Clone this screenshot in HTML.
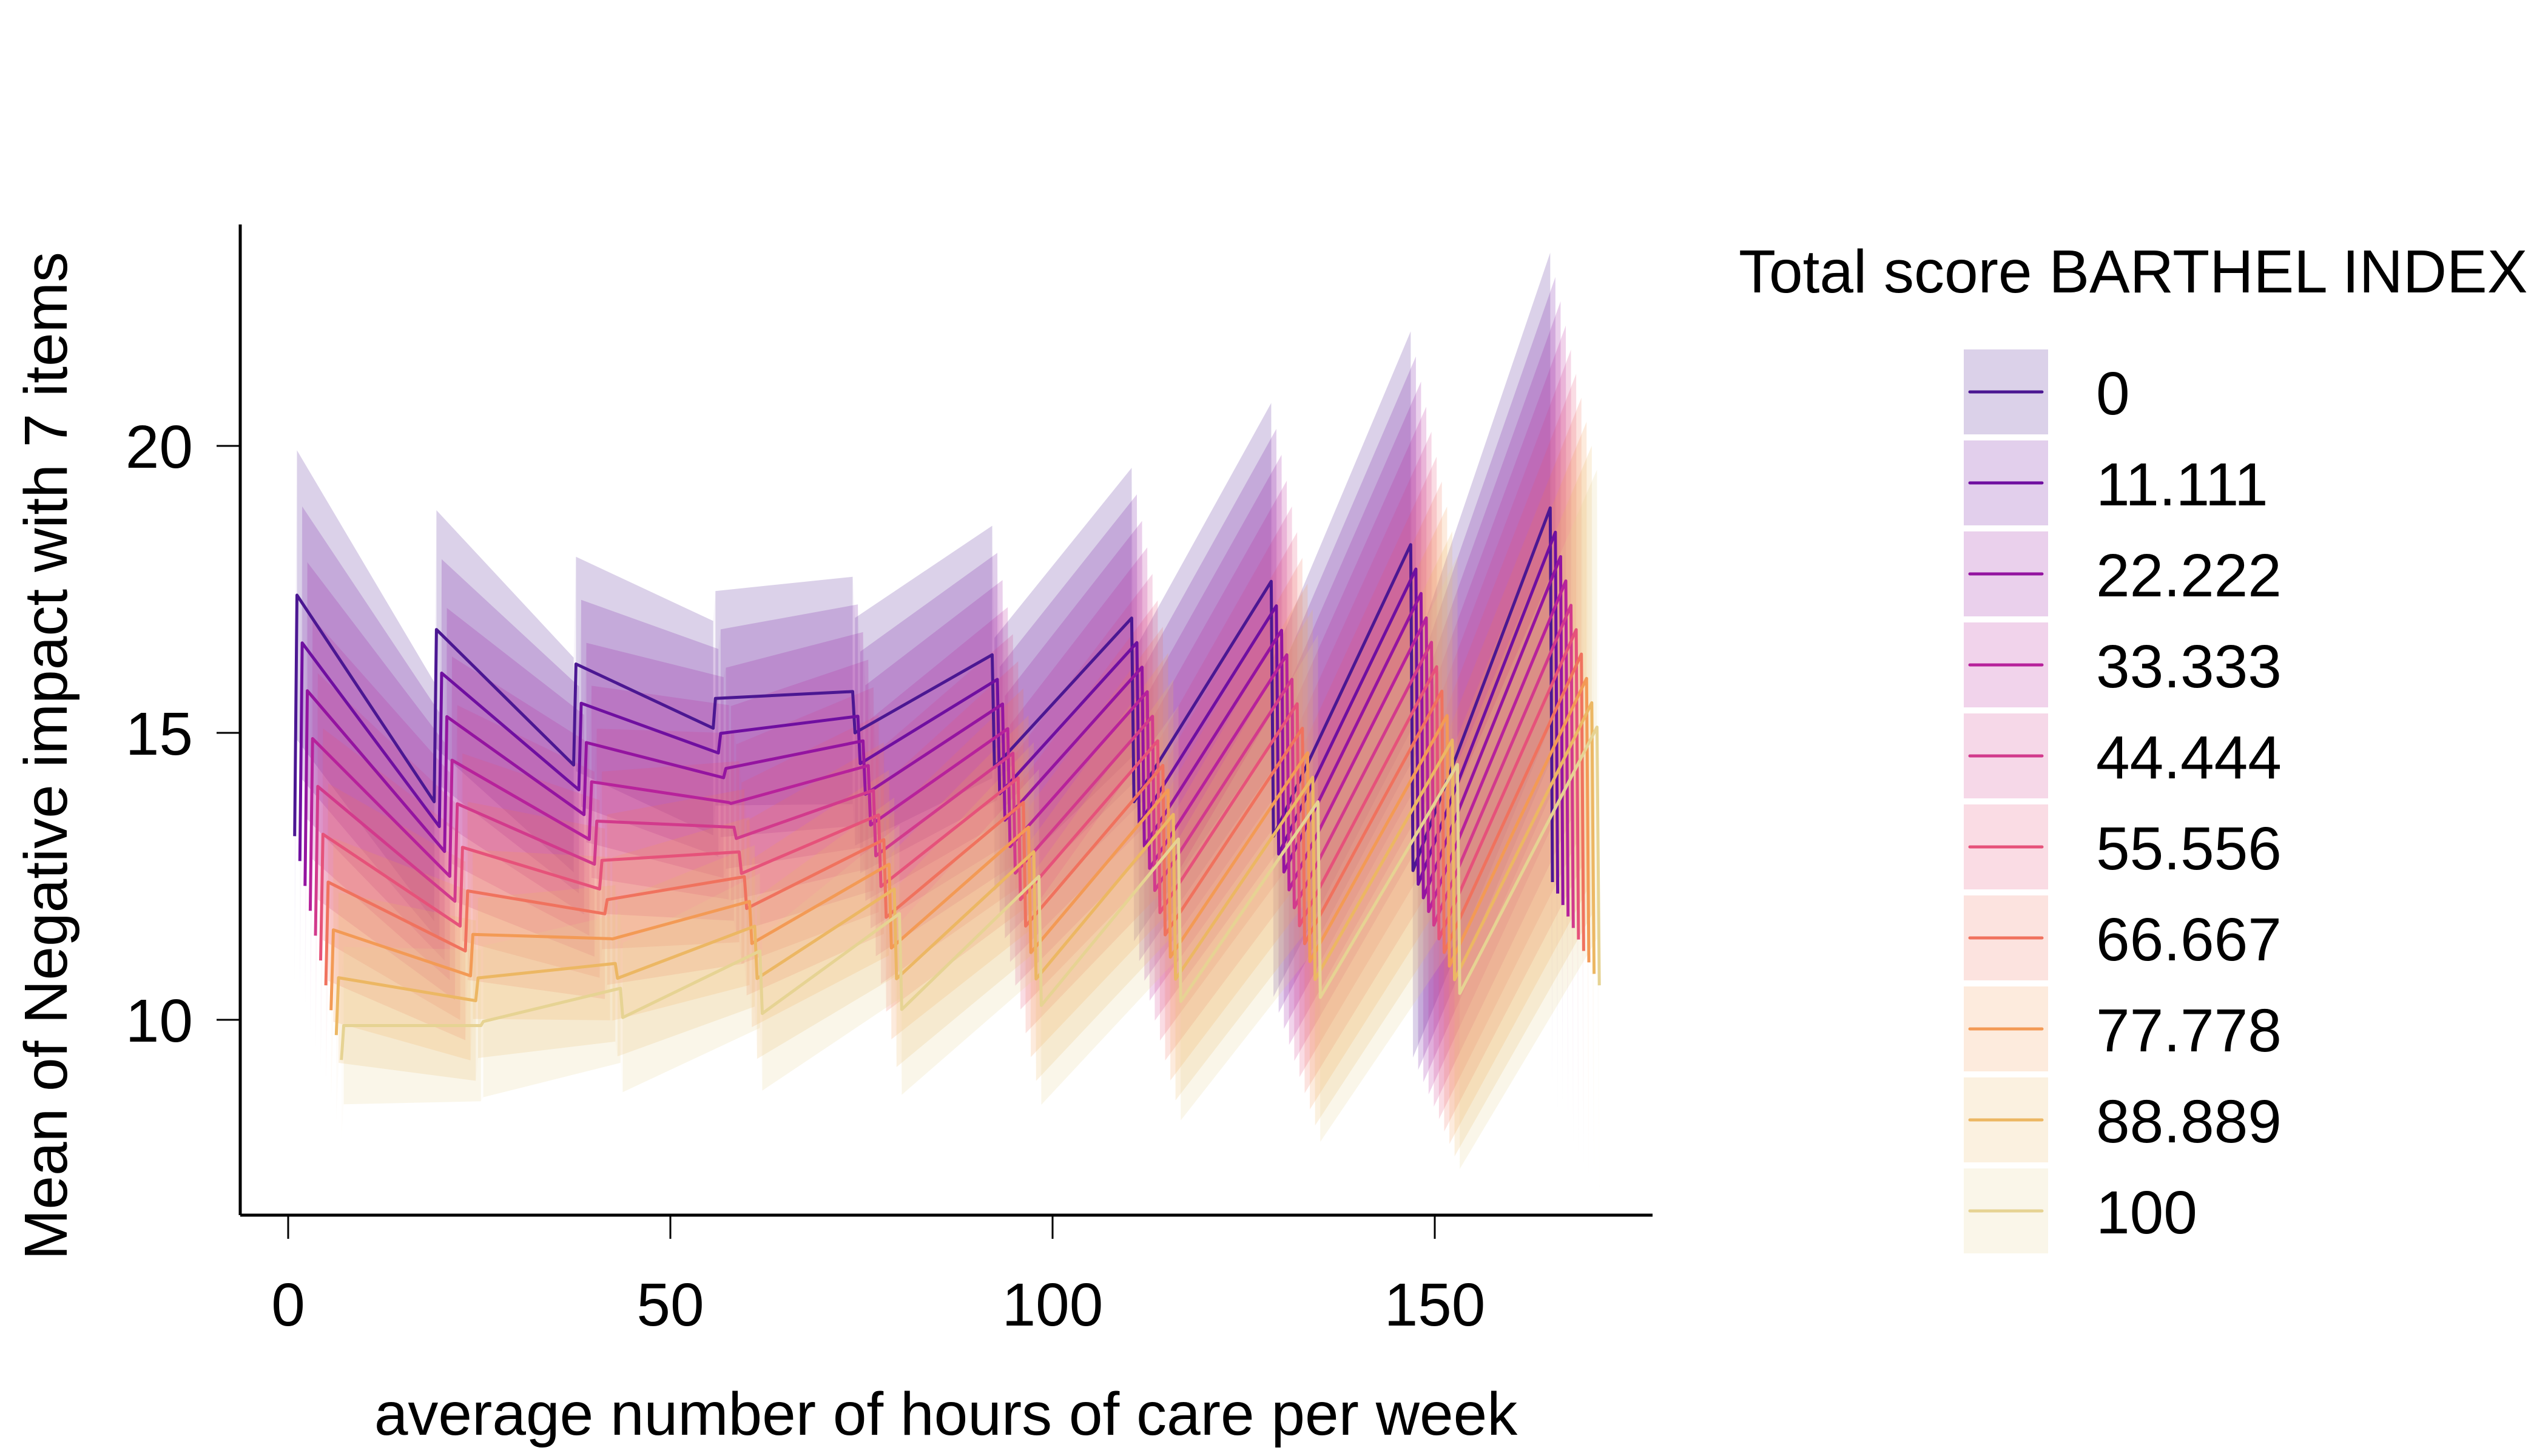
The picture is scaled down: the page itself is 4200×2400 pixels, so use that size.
<!DOCTYPE html>
<html><head><meta charset="utf-8">
<style>html,body{margin:0;padding:0;background:#fff;}svg{display:block;}text{font-family:"Liberation Sans",Arial,sans-serif;fill:#000;}</style>
</head><body>
<svg id="s" width="4200" height="2400" viewBox="0 0 4200 2400" xmlns="http://www.w3.org/2000/svg">
<rect width="4200" height="2400" fill="#fff"/>
<g id="rib"></g><g id="lin"></g>
<line x1="396" y1="370" x2="396" y2="2003" stroke="#000" stroke-width="5"/>
<line x1="396" y1="2003" x2="2724" y2="2003" stroke="#000" stroke-width="5"/>
<g stroke="#000" stroke-width="3">
<line x1="475" y1="2003" x2="475" y2="2042"/><line x1="1105" y1="2003" x2="1105" y2="2042"/>
<line x1="1735" y1="2003" x2="1735" y2="2042"/><line x1="2365" y1="2003" x2="2365" y2="2042"/>
<line x1="357" y1="735" x2="396" y2="735"/><line x1="357" y1="1208" x2="396" y2="1208"/><line x1="357" y1="1681" x2="396" y2="1681"/>
</g>
<g font-size="100" text-anchor="middle">
<text x="475" y="2185">0</text><text x="1105" y="2185">50</text><text x="1735" y="2185">100</text><text x="2365" y="2185">150</text>
</g>
<g font-size="100" text-anchor="end">
<text x="318" y="771">20</text><text x="318" y="1244">15</text><text x="318" y="1717">10</text>
</g>
<text x="1559" y="2365" font-size="100" text-anchor="middle">average number of hours of care per week</text>
<text transform="translate(110,1246) rotate(-90)" font-size="100" text-anchor="middle">Mean of Negative impact with 7 items</text>
<text x="2866" y="482" font-size="100">Total score BARTHEL INDEX</text>
<g id="leg"></g>
</svg>
<script>
(function(){
var cols=["#4b1792","#6f0fa0","#9414a0","#b7229b","#d23a8c","#e6527a","#f0725e","#f39a55","#ecb763","#e6d393"];
var labs=["0","11.111","22.222","33.333","44.444","55.556","66.667","77.778","88.889","100"];
function X(v){return 475+v*12.6;}
function Y(v){return 1681-(v-10)*94.6;}
var rib="",lin="",leg="";
for(var k=0;k<10;k++){
  var t=k/9,x0=0.85+0.68*k,P=18.25;
  var pts=[];
  pts.push([x0,13.2*(1-t)+9.3*t]);
  for(var i=0;i<9;i++){
    var s=(17.4-0.6*i)*(1-t)+(9.9+0.07*i)*t;
    var e=(13.8+0.64*i)*(1-t)+(9.9+0.65*i)*t;
    pts.push([x0+i*P+0.3,s]);pts.push([x0+(i+1)*P,e]);
  }
  pts.push([x0+9*P+0.3,12.4*(1-t)+10.6*t]);
  var base=1.85*(1-t)+1.3*t,cl=0.00035*(1-t)+0.00005*t,cr=0.00018*(1-t)+0.0002*t;
  var hu=function(x){var d=x-45;return base+(d<0?cl:cr)*d*d;};
  var hd=function(x){var d=x-45;return base+(d<0?cl:cr*0.75)*d*d;};
  var ln=[];
  pts.forEach(function(p){ln.push(X(p[0]).toFixed(1)+","+Y(p[1]).toFixed(1));});
  for(var j=0;j<pts.length-1;j++){
    var a=pts[j],b=pts[j+1];
    rib+='<polygon points="'+X(a[0]).toFixed(1)+','+Y(a[1]+hu(a[0])).toFixed(1)+' '+X(b[0]).toFixed(1)+','+Y(b[1]+hu(b[0])).toFixed(1)+' '+X(b[0]).toFixed(1)+','+Y(b[1]-hd(b[0])).toFixed(1)+' '+X(a[0]).toFixed(1)+','+Y(a[1]-hd(a[0])).toFixed(1)+'" fill="'+cols[k]+'" fill-opacity="'+(j%2==1?0.2:0.04)+'"/>';
  }
  lin+='<polyline points="'+ln.join(" ")+'" fill="none" stroke="'+cols[k]+'" stroke-width="5" stroke-linejoin="round"/>';
  var ty=576+k*150;
  leg+='<rect x="3237" y="'+ty+'" width="139" height="140" fill="'+cols[k]+'" fill-opacity="0.2"/>';
  leg+='<line x1="3247" x2="3366" y1="'+(ty+70)+'" y2="'+(ty+70)+'" stroke="'+cols[k]+'" stroke-width="5" stroke-linecap="round"/>';
  leg+='<text x="3455" y="'+(ty+107)+'" font-size="100">'+labs[k]+'</text>';
}
document.getElementById("rib").innerHTML=rib;
document.getElementById("lin").innerHTML=lin;
document.getElementById("leg").innerHTML=leg;
})();
</script>
</body></html>
